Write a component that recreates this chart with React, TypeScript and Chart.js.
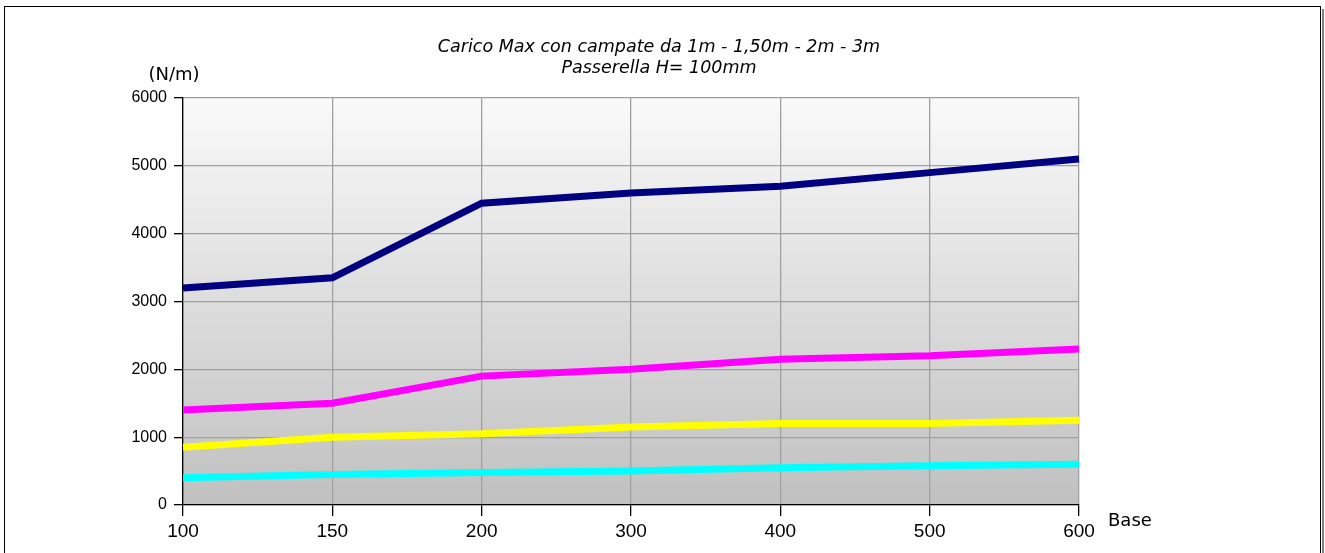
import React, { useEffect, useRef } from "react";
import { Chart, registerables } from "chart.js";

Chart.register(...registerables);

const categories = ["100", "150", "200", "300", "400", "500", "600"];
const span3m = [3200, 3350, 4450, 4600, 4700, 4900, 5100];
const span2m = [1400, 1500, 1900, 2000, 2150, 2200, 2300];
const span150 = [850, 1000, 1050, 1150, 1200, 1200, 1250];
const span1m = [400, 450, 480, 500, 550, 580, 600];
const titleLines = ["Carico Max con campate da 1m - 1,50m - 2m - 3m", "Passerella H= 100mm"];
const yAxisLabel = "(N/m)";
const xAxisLabel = "Base";

const decor = {
  id: "decor",
  beforeDraw(chart: any) {
    const { ctx, chartArea } = chart;
    const g = ctx.createLinearGradient(0, chartArea.top, 0, chartArea.bottom);
    g.addColorStop(0, "#fafafa");
    g.addColorStop(1, "#c0c0c0");
    ctx.save();
    ctx.fillStyle = g;
    ctx.fillRect(chartArea.left, chartArea.top, chartArea.right - chartArea.left, chartArea.bottom - chartArea.top);
    ctx.restore();
  },
  afterDraw(chart: any) {
    const { ctx } = chart;
    ctx.save();
    // outer frame
    ctx.strokeStyle = "#000";
    ctx.lineWidth = 1;
    ctx.strokeRect(4.5, 6.5, 1316, 700);
    ctx.fillStyle = "#808080";
    ctx.fillRect(1322, 9, 2, 600);
    // title
    ctx.fillStyle = "#000";
    ctx.textAlign = "center";
    ctx.textBaseline = "alphabetic";
    ctx.font = "italic 17.5px 'DejaVu Sans'";
    ctx.fillText(titleLines[0], 659, 52);
    ctx.fillText(titleLines[1], 659, 73);
    // axis labels
    ctx.font = "18px 'DejaVu Sans'";
    ctx.textBaseline = "middle";
    ctx.fillText(yAxisLabel, 174, 75);
    ctx.textAlign = "left";
    ctx.fillText(xAxisLabel, 1108, 521);
    ctx.restore();
  },
};

export default function App() {
  const ref = useRef<HTMLCanvasElement>(null);
  useEffect(() => {
    document.body.style.margin = "0";
    const mk = (label: string, data: number[], color: string) => ({
      label,
      data,
      borderColor: color,
      backgroundColor: color,
      borderWidth: 7,
      pointRadius: 0,
      tension: 0,
      fill: false,
    });
    const chart = new Chart(ref.current!, {
      type: "line",
      data: {
        labels: categories,
        datasets: [
          mk("3m", span3m, "#000080"),
          mk("2m", span2m, "#ff00ff"),
          mk("1,50m", span150, "#ffff00"),
          mk("1m", span1m, "#00ffff"),
        ],
      },
      options: {
        animation: false,
        responsive: false,
        layout: { padding: { left: 0, top: 98, right: 246, bottom: 0 } },
        plugins: { legend: { display: false }, title: { display: false }, tooltip: { enabled: false } },
        scales: {
          x: {
            offset: false,
            grid: { color: "#a0a0a0", tickColor: "#000", tickLength: 11, lineWidth: 1.3 },
            border: { color: "#000", width: 1.3 },
            ticks: { color: "#000", font: { family: "'Liberation Sans', Arial", size: 19 }, padding: 4, maxRotation: 0 },
            afterFit: (s: any) => { s.height = 48; },
          },
          y: {
            min: 0,
            max: 6000,
            grid: { color: "#a0a0a0", tickColor: "#000", tickLength: 9, lineWidth: 1.3 },
            border: { color: "#000", width: 1.3 },
            ticks: {
              stepSize: 1000,
              color: "#000",
              font: { family: "'Liberation Sans', Arial", size: 16 },
              padding: 7,
              callback: (v: any) => String(v),
            },
            afterFit: (s: any) => { s.width = 183; },
          },
        },
      },
      plugins: [decor],
    });
    return () => chart.destroy();
  }, []);
  return <canvas ref={ref} width={1325} height={553} style={{ display: "block" }} />;
}
